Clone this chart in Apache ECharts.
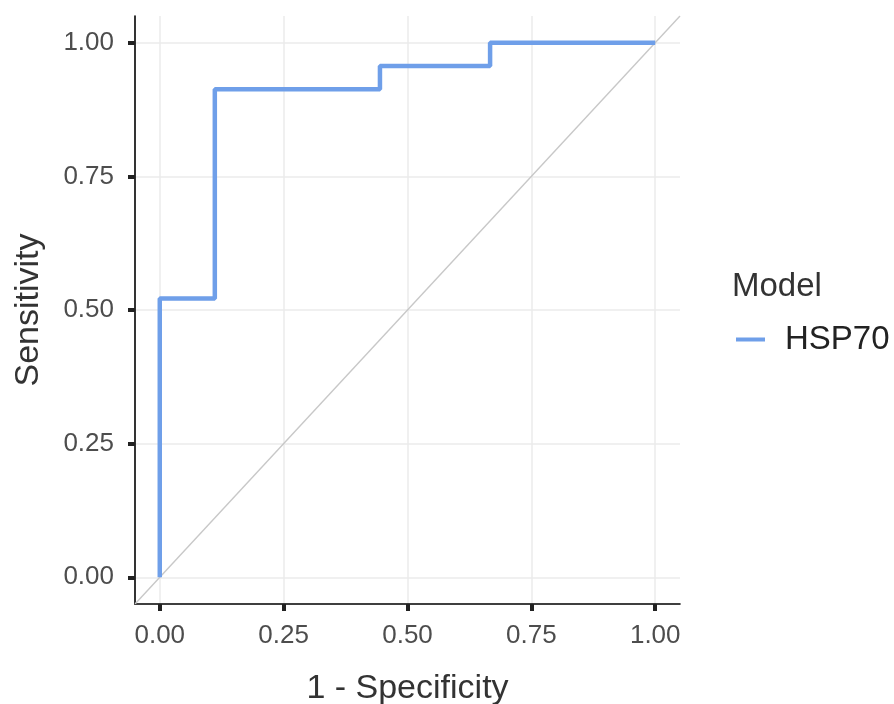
<!DOCTYPE html>
<html>
<head>
<meta charset="utf-8">
<script src="https://cdn.jsdelivr.net/npm/echarts@6/dist/echarts.min.js"></script>
<style>html,body{margin:0;padding:0;background:#fff}#c{width:894px;height:704px}</style>
</head>
<body>
<div id="c"></div>
<script>
const fpr = [0, 0, 0.1111, 0.1111, 0.4444, 0.4444, 0.6667, 0.6667, 1];
const tpr = [0, 0.5217, 0.5217, 0.9130, 0.9130, 0.9565, 0.9565, 1, 1];
const diagX = [-0.05, 1.05];
const diagY = [-0.05, 1.05];
const tickValues = [0, 0.25, 0.5, 0.75, 1];
const seriesName = 'HSP70';
const legendTitle = 'Model';
const xTitle = '1 - Specificity';
const yTitle = 'Sensitivity';

const font = 'Liberation Sans, Arial, sans-serif';
const chart = echarts.init(document.getElementById('c'));
const axisCommon = (name, gap) => ({
  type: 'value', min: -0.05, max: 1.05,
  name: name, nameLocation: 'middle', nameGap: gap,
  nameTextStyle: {fontFamily: font, fontSize: 34, color: '#333'},
  axisLine: {show: true, onZero: false, lineStyle: {color: '#000', width: 1.6}},
  axisTick: {show: true, customValues: tickValues, length: 7, lineStyle: {color: '#222', width: 4}},
  axisLabel: {customValues: tickValues, formatter: v => v.toFixed(2), fontFamily: font, fontSize: 26, color: '#4d4d4d'},
  splitLine: {show: true, lineStyle: {color: '#ebebeb', width: 1.5}}
});
const xAxis = axisCommon(xTitle, 68);
xAxis.axisLabel.margin = 19;
const yAxis = axisCommon(yTitle, 89);
yAxis.axisLabel.margin = 21;
chart.setOption({
  animation: false,
  grid: {left: 135, top: 16, width: 545, height: 588, containLabel: false, outerBoundsMode: 'none'},
  xAxis: xAxis,
  yAxis: yAxis,
  title: {text: legendTitle, left: 727, top: 265, textStyle: {fontFamily: font, fontSize: 33, fontWeight: 'normal', color: '#333'}},
  legend: {
    left: 731, top: 318, icon: 'rect', itemWidth: 29, itemHeight: 4,
    data: [seriesName],
    textStyle: {fontFamily: font, fontSize: 33, color: '#222', padding: [0, 0, 0, 15]}
  },
  series: [
    {
      type: 'line', silent: true, symbol: 'none', z: 1,
      data: diagX.map((x, i) => [x, diagY[i]]),
      lineStyle: {color: '#c8c8c8', width: 1.4}
    },
    {
      name: seriesName, type: 'line', symbol: 'none', z: 3,
      data: fpr.map((x, i) => [x, tpr[i]]),
      itemStyle: {color: '#6f9fe9'},
      lineStyle: {color: '#6f9fe9', width: 4.5}
    }
  ]
});
</script>
</body>
</html>
